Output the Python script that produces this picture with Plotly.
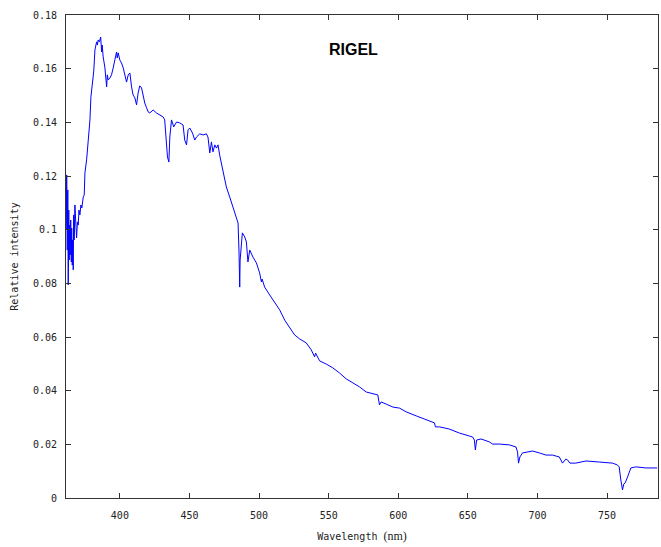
import plotly.graph_objects as go

wavelength_nm = [
    361.5, 361.8, 362.2, 362.6, 362.9, 363.3, 363.6, 364.0, 364.3, 364.7, 365.1, 365.4,
    365.8, 366.1, 366.5, 366.8, 367.2, 367.7, 368.2, 368.9, 369.5, 370.1, 370.6, 371.3,
    372.0, 372.7, 373.7, 374.4, 374.9, 376.1, 377.3, 378.5, 379.2, 379.9, 380.8, 381.3,
    382.1, 383.3, 383.9, 384.4, 385.3, 386.2, 386.9, 387.3, 388.0, 389.2, 390.5, 391.0,
    391.6, 392.8, 394.0, 395.2, 396.4, 397.6, 398.1, 398.8, 400.0, 401.2, 402.4, 403.6,
    404.8, 406.0, 407.2, 408.4, 409.5, 410.8, 412.0, 413.1, 414.3, 415.6, 416.7, 417.9,
    419.2, 420.3, 421.5, 423.9, 426.3, 428.7, 431.1, 432.2, 433.2, 434.2, 435.2, 435.9,
    437.1, 438.7, 440.7, 443.0, 445.4, 446.6, 447.9, 449.0, 450.2, 452.2, 453.8, 455.0,
    457.4, 459.8, 462.2, 463.3, 464.6, 465.8, 466.9, 468.2, 469.4, 470.5, 471.7, 474.1,
    476.5, 478.9, 481.3, 483.7, 484.9, 485.6, 486.1, 486.4, 486.8, 488.0, 489.7, 490.9,
    492.0, 493.3, 495.6, 498.1, 500.4, 501.7, 502.2, 504.0, 507.6, 511.2, 514.8, 518.4,
    522.0, 525.5, 529.1, 533.9, 537.5, 539.9, 540.6, 543.5, 548.3, 553.0, 557.8, 562.6,
    567.4, 572.2, 577.0, 581.7, 585.3, 586.5, 587.7, 591.3, 596.1, 600.9, 605.7, 612.9,
    620.0, 626.0, 626.7, 629.6, 636.7, 643.9, 651.1, 653.5, 654.7, 655.4, 656.3, 659.5,
    665.4, 667.8, 672.6, 679.8, 684.6, 685.7, 686.4, 687.4, 689.3, 692.9, 696.5, 701.3,
    706.1, 710.8, 715.7, 718.0, 720.4, 721.6, 723.3, 727.6, 734.8, 744.4, 753.9, 757.5,
    758.7, 759.9, 761.1, 762.0, 763.0, 764.7, 767.1, 770.7, 777.9, 786.0,
]

relative_intensity = [
    0.0999, 0.1204, 0.0924, 0.1148, 0.0794, 0.1073, 0.0887, 0.1017, 0.0906, 0.1036, 0.0880, 0.1006,
    0.0868, 0.0962, 0.0850, 0.1055, 0.0962, 0.1092, 0.1017, 0.0969, 0.1029, 0.1017, 0.1073, 0.1055,
    0.1092, 0.1081, 0.1122, 0.1129, 0.1211, 0.1260, 0.1334, 0.1409, 0.1495, 0.1521, 0.1569, 0.1595,
    0.1670, 0.1700, 0.1688, 0.1707, 0.1700, 0.1718, 0.1662, 0.1688, 0.1644, 0.1606, 0.1532, 0.1577,
    0.1558, 0.1565, 0.1577, 0.1603, 0.1632, 0.1662, 0.1640, 0.1659, 0.1632, 0.1621, 0.1603, 0.1577,
    0.1550, 0.1577, 0.1584, 0.1532, 0.1502, 0.1491, 0.1465, 0.1509, 0.1536, 0.1528, 0.1495, 0.1472,
    0.1454, 0.1439, 0.1435, 0.1446, 0.1435, 0.1427, 0.1420, 0.1409, 0.1353, 0.1271, 0.1252, 0.1345,
    0.1409, 0.1383, 0.1401, 0.1398, 0.1390, 0.1334, 0.1316, 0.1372, 0.1379, 0.1360, 0.1334, 0.1345,
    0.1357, 0.1353, 0.1357, 0.1345, 0.1286, 0.1327, 0.1290, 0.1316, 0.1304, 0.1316, 0.1278, 0.1222,
    0.1159, 0.1122, 0.1085, 0.1044, 0.1025, 0.0917, 0.0786, 0.0887, 0.0917, 0.0988, 0.0973, 0.0954,
    0.0880, 0.0924, 0.0898, 0.0876, 0.0839, 0.0805, 0.0816, 0.0786, 0.0757, 0.0727, 0.0701, 0.0663,
    0.0634, 0.0608, 0.0593, 0.0578, 0.0552, 0.0526, 0.0540, 0.0511, 0.0499, 0.0485, 0.0466, 0.0444,
    0.0429, 0.0414, 0.0395, 0.0388, 0.0384, 0.0347, 0.0358, 0.0350, 0.0339, 0.0335, 0.0321, 0.0306,
    0.0291, 0.0280, 0.0265, 0.0265, 0.0257, 0.0242, 0.0231, 0.0227, 0.0216, 0.0179, 0.0216, 0.0220,
    0.0209, 0.0201, 0.0201, 0.0198, 0.0190, 0.0171, 0.0130, 0.0153, 0.0168, 0.0171, 0.0175, 0.0168,
    0.0160, 0.0160, 0.0153, 0.0130, 0.0145, 0.0142, 0.0130, 0.0130, 0.0138, 0.0134, 0.0130, 0.0123,
    0.0116, 0.0067, 0.0030, 0.0052, 0.0056, 0.0078, 0.0112, 0.0116, 0.0112, 0.0112,
]

x_tick_values = [400, 450, 500, 550, 600, 650, 700, 750]
x_tick_labels = ["400", "450", "500", "550", "600", "650", "700", "750"]
y_tick_values = [0, 0.02, 0.04, 0.06, 0.08, 0.1, 0.12, 0.14, 0.16, 0.18]
y_tick_labels = ["0", "0.02", "0.04", "0.06", "0.08", "0.1", "0.12", "0.14", "0.16", "0.18"]

mono = "DejaVu Sans Mono"

fig = go.Figure()
fig.add_trace(go.Scatter(
    x=wavelength_nm, y=relative_intensity, mode="lines",
    line=dict(color="#0000ff", width=1), showlegend=False,
))

axis_common = dict(
    showline=True, linecolor="#333333", linewidth=1, mirror="ticks",
    ticks="inside", ticklen=5, tickcolor="#333333", tickwidth=1,
    showgrid=False, zeroline=False,
    tickfont=dict(family=mono, size=10, color="#222222"),
)

fig.update_layout(
    width=661, height=547,
    margin=dict(l=66, r=3, t=15, b=49),
    paper_bgcolor="white", plot_bgcolor="white",
    xaxis=dict(
        range=[361.3, 786.6], tickvals=x_tick_values, ticktext=x_tick_labels,
        ticklabelstandoff=8,
        title=dict(
            text="Wavelength <span style='font-family:Liberation Serif;font-size:12px'>(nm)</span>",
            font=dict(family=mono, size=10, color="#222222"), standoff=12,
        ),
        **axis_common,
    ),
    yaxis=dict(
        range=[0, 0.18], tickvals=y_tick_values, ticktext=y_tick_labels,
        ticklabelstandoff=6,
        title=dict(text="Relative intensity",
                   font=dict(family=mono, size=10, color="#222222"), standoff=12),
        **axis_common,
    ),
    annotations=[dict(
        text="<b>RIGEL</b>", x=0.485, y=0.95, xref="paper", yref="paper",
        showarrow=False, font=dict(family="Liberation Sans", size=16, color="black"),
    )],
)

fig.write_html(
    "out.html",
    config={"displayModeBar": False},
    post_script="document.body.style.margin='0';document.body.style.overflow='hidden';",
)
